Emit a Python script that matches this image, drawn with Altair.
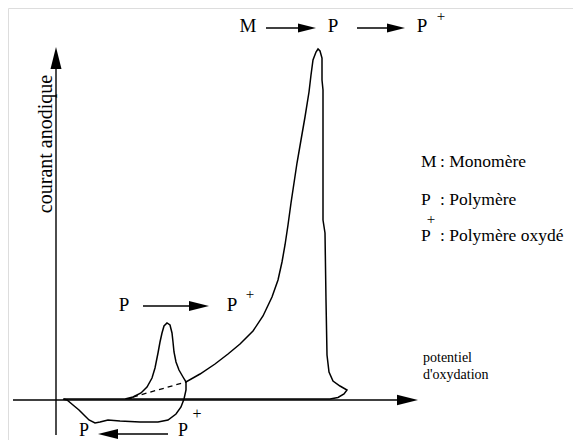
import altair as alt
import pandas as pd

# ---- data (E = potential, I = anodic current, schematic units; axes cross at 0,0) ----
# forward anodic scan, return scan and reverse along the baseline
scan_E = [8, 69, 77, 85, 91, 96, 99, 102, 104, 106, 108, 111, 114, 116, 117, 118, 120, 123, 127, 130,
          144, 159, 172, 184, 197, 207, 216, 222, 226, 229, 232, 235, 238, 241, 245, 249, 253, 255, 257,
          260, 262, 264, 266, 266, 267, 267, 269, 270, 271, 273, 277, 284, 291, 288, 282, 274, 251, 130, 8]
scan_I = [1, 1, 3, 7, 13, 22, 32, 47, 58, 67, 74, 77, 75, 67, 58, 48, 38, 30, 23, 18,
          26, 36, 46, 56, 69, 84, 103, 120, 138, 155, 175, 197, 217, 237, 260, 283, 308, 325, 340,
          348, 351, 349, 342, 320, 310, 180, 167, 100, 45, 28, 19, 14, 10, 6, 2.5, 1, 1, 1, 1]
# cathodic loop (P+ -> P)
loop_E = [130, 130, 128, 125, 120, 112, 102, 84, 64, 52, 44, 39, 33, 28, 23, 17, 11, 7]
loop_I = [18, 10, 1, -7, -14, -20, -22, -22, -21, -20, -22, -23, -20, -15, -10, -5, 0, 1]
# dashed baseline under the small peak
dash_E = [77, 130]
dash_I = [3, 18]

# axes
axis_names = ["x", "x", "y", "y"]
axis_E = [-43, 345, 0, 0]
axis_I = [0, 0, -35, 342]

# arrows (shafts)
shaft_names = ["a1", "a1", "a2", "a2", "a3", "a3", "a4", "a4"]
shaft_E = [210, 250, 301, 340, 87, 143, 52, 112]
shaft_I = [372, 372, 372, 372, 94, 94, -34, -34]
# arrow heads: position, direction, size
head_E = [351.5, 0, 251, 340, 143, 52]
head_I = [0, 342, 372, 372, 94, -34]
head_angle = [0, 270, 0, 0, 0, 180]
head_size = [441, 484, 324, 324, 400, 400]

# labels (baseline = alphabetic)
lab_text = ["M", "P", "P", "P", "P",
            "M", "P", "P", ": Monomère", ": Polymère", ": Polymère oxydé",
            "potentiel", "d'oxydation"]
lab_E = [192, 277, 366, 68, 176,
         365, 365, 365, 384, 384, 384, 367, 367]
lab_I = [368, 368, 368, 89, 89,
         233, 195, 159, 233, 195, 159, 38, 21]
lab_align = ["center"] * 5 + ["left"] * 8
lab_size = [19, 19, 19, 19, 19, 17.5, 17.5, 17.5, 17.5, 17.5, 17.5, 14, 14]

# superscript "+" signs (baseline = middle)
plus_E = [385, 194, 375]
plus_I = [384, 106, 181]

# bottom labels (baseline = bottom)
bot_text = ["P", "P", "+"]
bot_E = [28, 127, 141]
bot_I = [-40, -40, -22]

ylab_text = ["courant anodique"]
ylab_E = [-10]
ylab_I = [256]

# ---- build ----
W, H = 565, 432
xs = alt.Scale(domain=[-48, 517], nice=False, zero=False)
ys = alt.Scale(domain=[-40, 392], nice=False, zero=False)
X = alt.X("E:Q", scale=xs, axis=None)
Y = alt.Y("I:Q", scale=ys, axis=None)
FONT = "Liberation Serif, DejaVu Serif, serif"

def path_df(E, I, name):
    return pd.DataFrame({"E": E, "I": I, "k": list(range(len(E))), "p": name})

curve_df = pd.concat([path_df(scan_E, scan_I, "scan"), path_df(loop_E, loop_I, "loop")])
dash_df = path_df(dash_E, dash_I, "dash")
axis_df = pd.DataFrame({"E": axis_E, "I": axis_I, "p": axis_names, "k": [0, 1, 0, 1]})
shaft_df = pd.DataFrame({"E": shaft_E, "I": shaft_I, "p": shaft_names, "k": [0, 1] * 4})
head_df = pd.DataFrame({"E": head_E, "I": head_I, "a": head_angle, "s": head_size})
lab_df = pd.DataFrame({"E": lab_E, "I": lab_I, "t": lab_text, "al": lab_align, "fs": lab_size})
plus_df = pd.DataFrame({"E": plus_E, "I": plus_I, "t": ["+"] * len(plus_E)})
bot_df = pd.DataFrame({"E": bot_E, "I": bot_I, "t": bot_text, "fs": [18, 18, 16]})
ylab_df = pd.DataFrame({"E": ylab_E, "I": ylab_I, "t": ylab_text})

axes = alt.Chart(axis_df).mark_line(color="black", strokeWidth=1.4).encode(
    x=X, y=Y, detail="p:N", order="k:Q")
curve = alt.Chart(curve_df).mark_line(color="black", strokeWidth=1.5).encode(
    x=X, y=Y, detail="p:N", order="k:Q")
dash = alt.Chart(dash_df).mark_line(color="black", strokeWidth=1.3, strokeDash=[5, 4]).encode(
    x=X, y=Y, order="k:Q")
shafts = alt.Chart(shaft_df).mark_line(color="black", strokeWidth=1.4).encode(
    x=X, y=Y, detail="p:N", order="k:Q")
heads = alt.Chart(head_df).mark_point(
    shape="M-1,-0.5L1,0L-1,0.5Z", filled=True, color="black", opacity=1, strokeWidth=0
).encode(x=X, y=Y, angle=alt.Angle("a:Q", scale=None), size=alt.Size("s:Q", scale=None))

texts = []
for al in ["left", "center"]:
    texts.append(
        alt.Chart(lab_df[lab_df["al"] == al]).mark_text(
            font=FONT, color="black", align=al, baseline="alphabetic"
        ).encode(x=X, y=Y, text="t:N", size=alt.Size("fs:Q", scale=None))
    )
plus = alt.Chart(plus_df).mark_text(
    font=FONT, color="black", align="center", baseline="middle", fontSize=15
).encode(x=X, y=Y, text="t:N")
bottom = alt.Chart(bot_df).mark_text(
    font=FONT, color="black", align="center", baseline="bottom"
).encode(x=X, y=Y, text="t:N", size=alt.Size("fs:Q", scale=None))
ylab = alt.Chart(ylab_df).mark_text(
    font=FONT, color="black", align="center", baseline="middle", angle=270, fontSize=20
).encode(x=X, y=Y, text="t:N")

chart = alt.layer(axes, curve, dash, shafts, heads, *texts, plus, bottom, ylab).properties(
    width=W, height=H, padding=0, autosize=alt.AutoSizeParams(type="none")
).configure_view(stroke=None).configure(font=FONT)

chart.save("out.html", embed_options={"renderer": "svg", "actions": False})
